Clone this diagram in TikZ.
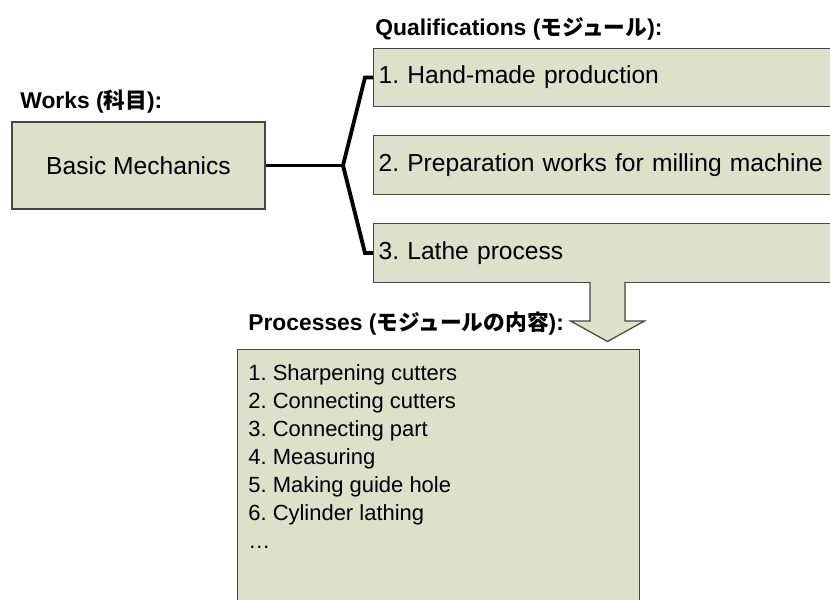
\documentclass[tikz,border=0pt]{standalone}
\usepackage{fontspec}
\setmainfont{Liberation Sans}
\newfontfamily\jpfont{Noto Sans CJK JP}[Scale=0.95]
\usetikzlibrary{positioning}
\frenchspacing

\definecolor{boxfill}{RGB}{221,224,203}
\definecolor{boxline}{RGB}{70,70,70}

\begin{document}
\begin{tikzpicture}[
    font=\fontsize{14}{16}\selectfont,
    box/.style={draw=boxline, line width=0.7pt, fill=boxfill, inner sep=0pt},
    qualbox/.style={box, anchor=west, minimum height=1.17cm, text width=9.4cm, inner xsep=0.1cm, align=left},
    heading/.style={font=\fontsize{13}{15}\selectfont\bfseries, anchor=west, inner sep=0pt},
    fork/.style={line width=2.2pt}
  ]
  \useasboundingbox (0,0) rectangle (16.6,11.98);
  \clip (0,0) rectangle (16.6,11.98);

  % the subject on the left
  \node[heading] (workslbl) at (0.4,9.94) {Works ({\jpfont 科目}):};
  \node[box, minimum width=5.06cm, minimum height=1.74cm] (works) at (2.77,8.67) {Basic Mechanics};

  % the modules (boxes run off the right edge)
  \node[heading] (quallbl) at (7.5,11.4) {Qualifications ({\jpfont モジュール}):};
  \node[qualbox] (q1) at (7.46,10.43) {1. Hand-made production};
  \node[qualbox] (q2) at (7.46,8.68) {2. Preparation works for milling machine};
  \node[qualbox] (q3) at (7.46,6.92) {3. Lathe process};

  % fork from subject to modules
  \coordinate (split) at (6.86,8.67);
  \draw[fork] (works.east) -- (split);
  \draw[fork] (q1.west) -- ++(-0.16,0) -- (split) -- ([xshift=-0.16cm]q3.west) -- (q3.west);

  % block arrow down to the contents
  \fill[boxfill] (11.8,6.37) -- (11.8,5.56) -- (11.41,5.56) -- (12.15,5.15) -- (12.89,5.56) -- (12.5,5.56) -- (12.5,6.37) -- cycle;
  \draw[boxline, line width=0.7pt] (11.8,6.34) -- (11.8,5.56) -- (11.41,5.56) -- (12.15,5.15) -- (12.89,5.56) -- (12.5,5.56) -- (12.5,6.34);

  % contents of the module
  \node[heading] (proclbl) at (4.96,5.5) {Processes ({\jpfont モジュールの内容}):};
  \node[box, anchor=north west, minimum width=8.04cm, minimum height=5.5cm] (procs) at (4.74,5.0) {};
  \node[anchor=north west, align=left, inner sep=0pt, font=\fontsize{12.5}{16}\selectfont] (steps)
    at ([xshift=0.22cm, yshift=-0.3cm]procs.north west)
    {1. Sharpening cutters\\2. Connecting cutters\\3. Connecting part\\4. Measuring\\5. Making guide hole\\6. Cylinder lathing\\…};
\end{tikzpicture}
\end{document}
